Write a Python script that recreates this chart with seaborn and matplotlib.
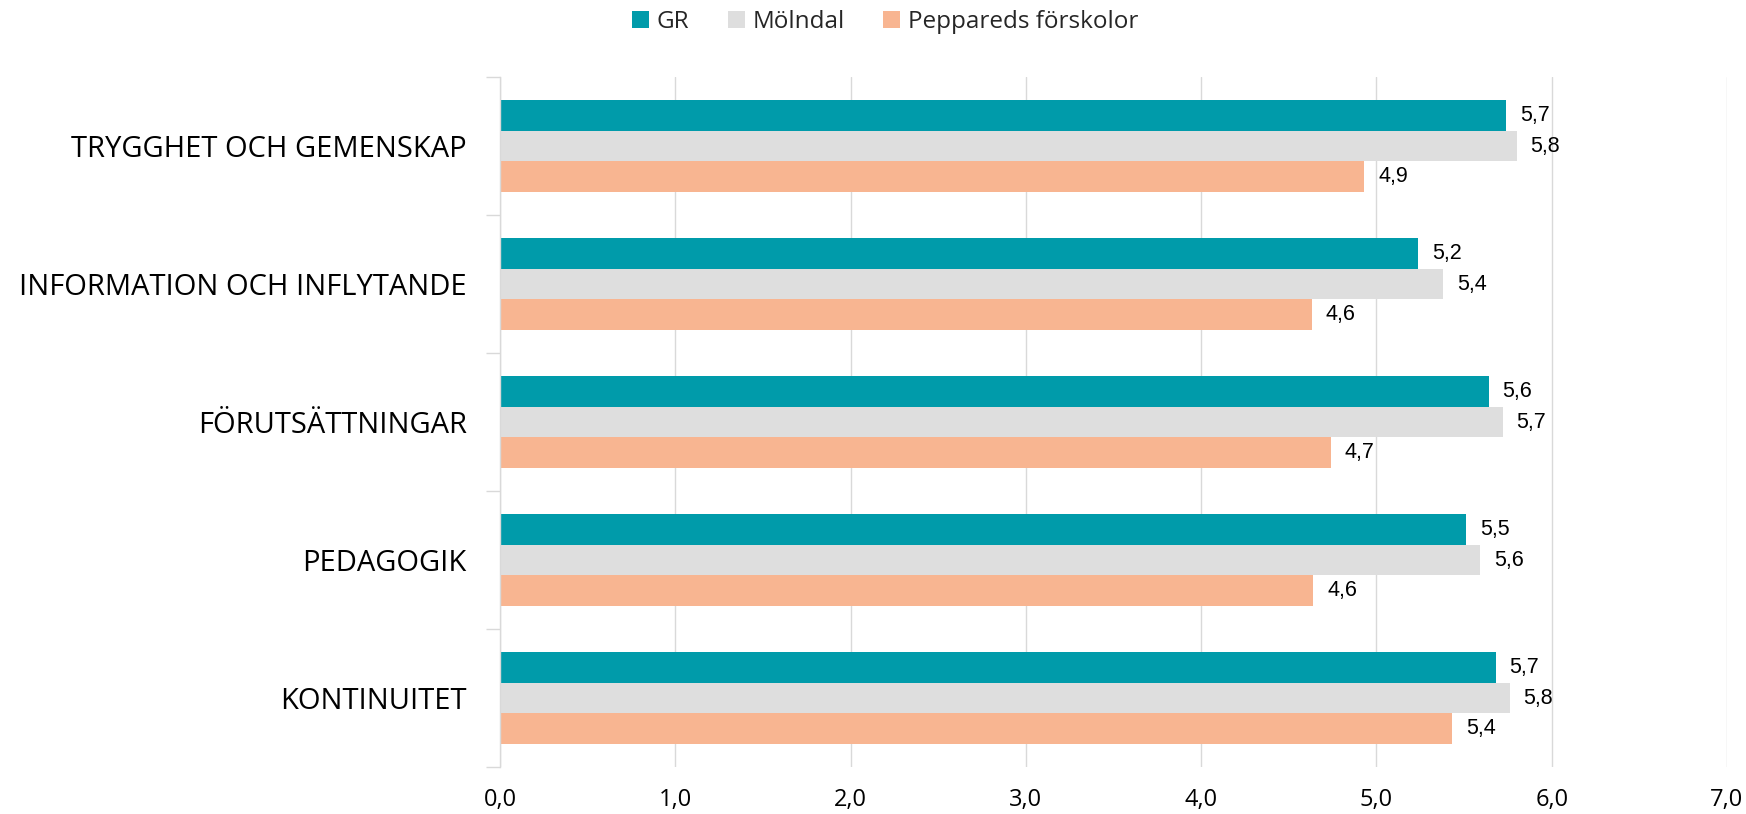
import matplotlib
matplotlib.use("Agg")
import matplotlib.pyplot as plt
import seaborn as sns
import pandas as pd
from matplotlib.ticker import FixedLocator, FuncFormatter

categories = ["TRYGGHET OCH GEMENSKAP", "INFORMATION OCH INFLYTANDE",
              "FÖRUTSÄTTNINGAR", "PEDAGOGIK", "KONTINUITET"]
series = ["GR", "Mölndal", "Peppareds förskolor"]
gr = [5.74, 5.24, 5.64, 5.51, 5.68]
molndal = [5.80, 5.38, 5.72, 5.59, 5.76]
peppared = [4.93, 4.63, 4.74, 4.64, 5.43]
colors = ["#009BAA", "#DEDEDE", "#F8B591"]
xticks = [0, 1, 2, 3, 4, 5, 6, 7]

rows = []
for s, vals in zip(series, [gr, molndal, peppared]):
    for c, v in zip(categories, vals):
        rows.append({"cat": c, "series": s, "value": v})
df = pd.DataFrame(rows)

sns.set_theme(style="white")
plt.rcParams["font.family"] = ["Open Sans", "DejaVu Sans"]

fig = plt.figure(figsize=(17.46, 8.14), dpi=100)
ax = fig.add_axes([0.2864, 0.0577, 0.7027, 0.8477])

sns.barplot(data=df, y="cat", x="value", hue="series", order=categories,
            hue_order=series, palette=colors, orient="h", width=0.66,
            saturation=1, linewidth=0, ax=ax, legend=True)

for cont in ax.containers:
    labs = [f"{b.get_width():.1f}".replace(".", ",") for b in cont]
    ax.bar_label(cont, labels=labs, padding=10, fontsize=15.5,
                 family=["Liberation Sans", "DejaVu Sans"], color="#000000")

ax.set_xlim(0, 7)
ax.set_ylim(4.5, -0.5)
ax.set_xticks(xticks)
ax.xaxis.set_major_formatter(FuncFormatter(lambda v, p: f"{v:.1f}".replace(".", ",")))
ax.tick_params(axis="x", length=0, pad=15, labelsize=17, labelcolor="#000000")
ax.tick_params(axis="y", which="major", length=0, pad=24, labelsize=21, labelcolor="#000000")
ax.yaxis.set_minor_locator(FixedLocator([-0.5, 0.5, 1.5, 2.5, 3.5, 4.5]))
ax.tick_params(axis="y", which="minor", length=10, width=1, color="#d9d9d9", left=True)
ax.set_xlabel("")
ax.set_ylabel("")
ax.grid(axis="x", color="#d9d9d9", linewidth=1)
ax.set_axisbelow(True)
for sp in ["top", "right", "bottom"]:
    ax.spines[sp].set_visible(False)
ax.spines["left"].set_color("#d9d9d9")
ax.spines["left"].set_linewidth(1)

handles, labels = ax.get_legend_handles_labels()
ax.get_legend().remove()
fig.legend(handles, labels, loc="center", bbox_to_anchor=(0.507, 0.973), ncol=3,
           frameon=False, fontsize=17.5, handlelength=0.7, handleheight=0.7,
           handletextpad=0.3, columnspacing=1.6)

fig.savefig("out.png", dpi=100)
